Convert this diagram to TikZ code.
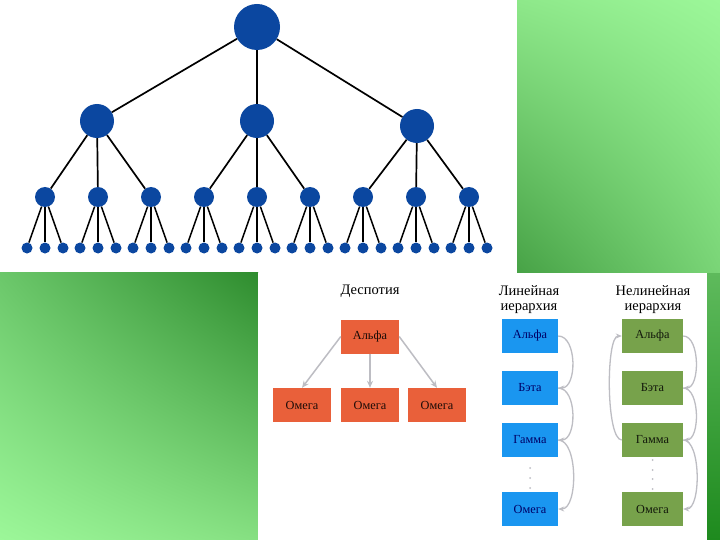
\documentclass[tikz,border=0pt]{standalone}
\usepackage{fontspec}
\setmainfont{Liberation Serif}
\usetikzlibrary{arrows.meta,shadings}
\definecolor{treeblue}{HTML}{0B47A0}
\definecolor{orbox}{HTML}{E9603A}
\definecolor{blbox}{HTML}{1A96F0}
\definecolor{grbox}{HTML}{77A24B}
\definecolor{arrgrey}{HTML}{BDBDC3}
\definecolor{gLight}{HTML}{9CF799}
\definecolor{gTopL}{HTML}{8EE88A}
\definecolor{gMidA}{HTML}{47A246}
\definecolor{gMidB}{HTML}{7AD577}
\definecolor{gDark}{HTML}{2E8C2E}
\definecolor{gLeftT}{HTML}{6BC76A}
\definecolor{gLowR}{HTML}{86E082}
\definecolor{gStripT}{HTML}{5EBA5C}
\definecolor{gStripB}{HTML}{1E8A1E}
\tikzset{
  tnode/.style={circle,fill=treeblue,draw=none,inner sep=0pt},
  tedge/.style={draw=black,line width=1.7pt},
  hbox/.style={rectangle,draw=none,minimum height=34pt,inner sep=0pt,font=\fontsize{12.3}{14}\selectfont},
  obox/.style={hbox,fill=orbox,minimum width=58pt,text=black!70!orbox!40!black},
  bbox/.style={hbox,fill=blbox,minimum width=56pt,text=blue!40!black},
  gbox/.style={hbox,fill=grbox,minimum width=61pt,text=black!85!grbox},
  ttl/.style={align=center,font=\fontsize{14.5}{15.5}\selectfont,inner sep=0pt},
  garrow/.style={draw=arrgrey,line width=1.5pt,-{Stealth[length=7pt,width=6pt]}},
  carrow/.style={draw=arrgrey,line width=1.3pt,-{Stealth[length=6pt,width=5pt]}},
  gdot/.style={circle,fill=arrgrey,inner sep=0pt,minimum size=2pt}
}
\begin{document}
\begin{tikzpicture}[x=1pt,y=-1pt]
\useasboundingbox (0,0) rectangle (720,540);
% background
\fill[white] (0,0) rectangle (720,540);
\shade[upper left=gTopL,upper right=gLight,lower left=gMidA,lower right=gMidB] (517,0) rectangle (720,273);
\shade[upper left=gLeftT,upper right=gDark,lower left=gLight,lower right=gLowR] (0,272) rectangle (258,540);
\shade[top color=gStripT,bottom color=gStripB] (707,273) rectangle (720,540);
\fill[white] (258,273) rectangle (707,540);
% tree nodes
\node[tnode,minimum size=46pt] (r) at (257,27) {};
\foreach \x/\y [count=\i] in {97/121,257/121,417/126}
  \node[tnode,minimum size=34pt] (m\i) at (\x,\y) {};
\foreach \i in {1,...,9}
  \node[tnode,minimum size=20pt] (s\i) at ({45+53*(\i-1)},197) {};
\foreach \i in {1,...,9}
  \foreach \j in {1,2,3}
    \node[tnode,minimum size=11pt] (f\i-\j) at ({45+53*(\i-1)+18*(\j-2)},248) {};
% tree edges
\foreach \i in {1,2,3} \draw[tedge] (r) -- (m\i);
\foreach \i in {1,...,9} {
  \pgfmathtruncatemacro{\p}{ceil(\i/3)}
  \draw[tedge] (m\p) -- (s\i);
  \foreach \j in {1,2,3} \draw[tedge,line width=1.5pt] (s\i) -- (f\i-\j);
}
% Despotia
\node[ttl] (t1) at (370,291) {Деспотия};
\node[obox] (da) at (370,336.5) {Альфа};
\node[obox] (do1) at (302,405) {Омега};
\node[obox] (do2) at (370,405) {Омега};
\node[obox] (do3) at (437,405) {Омега};
\draw[garrow] (da.west) -- (do1.north);
\draw[garrow] (da.south) -- (do2.north);
\draw[garrow] (da.east) -- (do3.north);
% Linear hierarchy
\node[ttl] (t2) at (529,299.5) {Линейная\\иерархия};
\node[bbox] (la) at (530,336) {Альфа};
\node[bbox] (lb) at (530,388) {Бэта};
\node[bbox] (lg) at (530,440) {Гамма};
\node[bbox] (lo) at (530,509) {Омега};
\node[gdot] (ld1) at (530,468) {};
\node[gdot] (ld2) at (530,478) {};
\node[gdot] (ld3) at (530,488) {};
\draw[carrow] (la.east) .. controls +(19,0) and +(19,0) .. (lb.east);
\draw[carrow] (lb.east) .. controls +(19,0) and +(19,0) .. (lg.east);
\draw[carrow] (lg.east) .. controls +(20,0) and +(20,0) .. (lo.east);
% Nonlinear hierarchy
\node[ttl] (t3) at (653,299.5) {Нелинейная\\иерархия};
\node[gbox] (na) at (652.5,336) {Альфа};
\node[gbox] (nb) at (652.5,388) {Бэта};
\node[gbox] (ng) at (652.5,440) {Гамма};
\node[gbox] (no) at (652.5,509) {Омега};
\node[gdot] (nd1) at (652.5,460) {};
\node[gdot] (nd2) at (652.5,470) {};
\node[gdot] (nd3) at (652.5,479) {};
\node[gdot] (nd4) at (652.5,489) {};
\draw[carrow] (na.east) .. controls +(17,0) and +(17,0) .. (nb.east);
\draw[carrow] (nb.east) .. controls +(17,0) and +(17,0) .. (ng.east);
\draw[carrow] (ng.east) .. controls +(18,0) and +(18,0) .. (no.east);
\draw[carrow] (ng.west) .. controls +(-16,0) and +(-16,0) .. (na.west);
\end{tikzpicture}
\end{document}
